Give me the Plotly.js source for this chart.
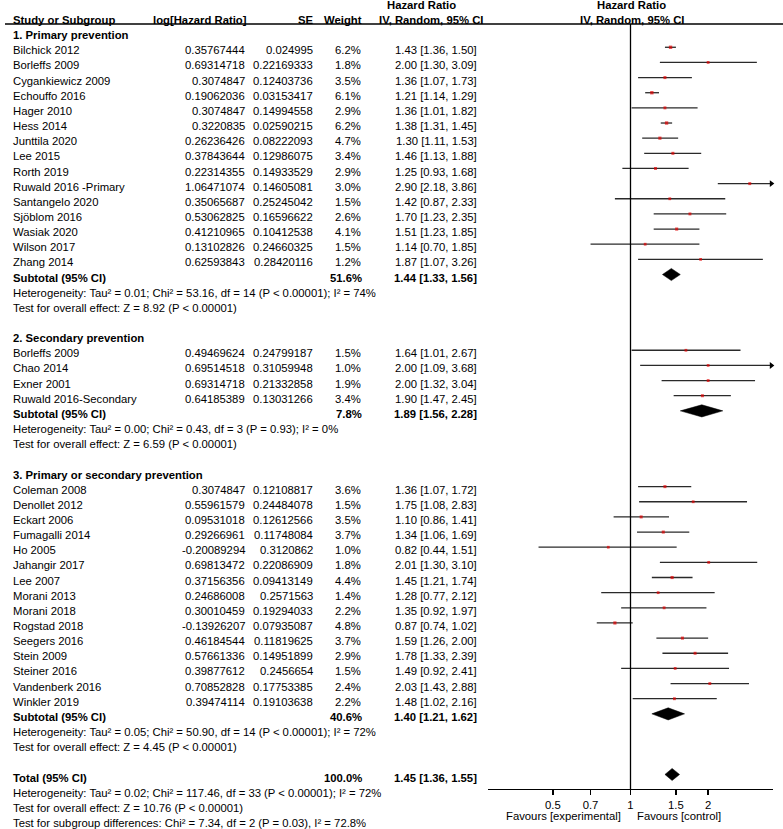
<!DOCTYPE html>
<html><head><meta charset="utf-8">
<script src="https://cdn.plot.ly/plotly-3.0.1.min.js"></script>
<style>html,body{margin:0;padding:0;background:#fff;}</style>
</head><body>
<div id="chart" style="width:783px;height:829px;"></div>
<script>
// ---------- DATA ----------
const groupTitles = ["1. Primary prevention", "2. Secondary prevention", "3. Primary or secondary prevention"];

const g1Names = ["Bilchick 2012","Borleffs 2009","Cygankiewicz 2009","Echouffo 2016","Hager 2010","Hess 2014","Junttila 2020","Lee 2015","Rorth 2019","Ruwald 2016 -Primary","Santangelo 2020","Sjöblom 2016","Wasiak 2020","Wilson 2017","Zhang 2014"];
const g1Log = ["0.35767444","0.69314718","0.3074847","0.19062036","0.3074847","0.3220835","0.26236426","0.37843644","0.22314355","1.06471074","0.35065687","0.53062825","0.41210965","0.13102826","0.62593843"];
const g1SE = ["0.024995","0.22169333","0.12403736","0.03153417","0.14994558","0.02590215","0.08222093","0.12986075","0.14933529","0.14605081","0.25245042","0.16596622","0.10412538","0.24660325","0.28420116"];
const g1W = [6.2,1.8,3.5,6.1,2.9,6.2,4.7,3.4,2.9,3.0,1.5,2.6,4.1,1.5,1.2];
const g1HR = [1.43,2.00,1.36,1.21,1.36,1.38,1.30,1.46,1.25,2.90,1.42,1.70,1.51,1.14,1.87];
const g1Lo = [1.36,1.30,1.07,1.14,1.01,1.31,1.11,1.13,0.93,2.18,0.87,1.23,1.23,0.70,1.07];
const g1Hi = [1.50,3.09,1.73,1.29,1.82,1.45,1.53,1.88,1.68,3.86,2.33,2.35,1.85,1.85,3.26];

const g2Names = ["Borleffs 2009","Chao 2014","Exner 2001","Ruwald 2016-Secondary"];
const g2Log = ["0.49469624","0.69514518","0.69314718","0.64185389"];
const g2SE = ["0.24799187","0.31059948","0.21332858","0.13031266"];
const g2W = [1.5,1.0,1.9,3.4];
const g2HR = [1.64,2.00,2.00,1.90];
const g2Lo = [1.01,1.09,1.32,1.47];
const g2Hi = [2.67,3.68,3.04,2.45];

const g3Names = ["Coleman 2008","Denollet 2012","Eckart 2006","Fumagalli 2014","Ho 2005","Jahangir 2017","Lee 2007","Morani 2013","Morani 2018","Rogstad 2018","Seegers 2016","Stein 2009","Steiner 2016","Vandenberk 2016","Winkler 2019"];
const g3Log = ["0.3074847","0.55961579","0.09531018","0.29266961","-0.20089294","0.69813472","0.37156356","0.24686008","0.30010459","-0.13926207","0.46184544","0.57661336","0.39877612","0.70852828","0.39474114"];
const g3SE = ["0.12108817","0.24484078","0.12612566","0.11748084","0.3120862","0.22086909","0.09413149","0.2571563","0.19294033","0.07935087","0.11819625","0.14951899","0.2456654","0.17753385","0.19103638"];
const g3W = [3.6,1.5,3.5,3.7,1.0,1.8,4.4,1.4,2.2,4.8,3.7,2.9,1.5,2.4,2.2];
const g3HR = [1.36,1.75,1.10,1.34,0.82,2.01,1.45,1.28,1.35,0.87,1.59,1.78,1.49,2.03,1.48];
const g3Lo = [1.07,1.08,0.86,1.06,0.44,1.30,1.21,0.77,0.92,0.74,1.26,1.33,0.92,1.43,1.02];
const g3Hi = [1.72,2.83,1.41,1.69,1.51,3.10,1.74,2.12,1.97,1.02,2.00,2.39,2.41,2.88,2.16];

const subW = [51.6, 7.8, 40.6];
const subHR = [1.44, 1.89, 1.40];
const subLo = [1.33, 1.56, 1.21];
const subHi = [1.56, 2.28, 1.62];
const hetText = [
  "Heterogeneity: Tau² = 0.01; Chi² = 53.16, df = 14 (P < 0.00001); I² = 74%",
  "Heterogeneity: Tau² = 0.00; Chi² = 0.43, df = 3 (P = 0.93); I² = 0%",
  "Heterogeneity: Tau² = 0.05; Chi² = 50.90, df = 14 (P < 0.00001); I² = 72%"];
const effText = [
  "Test for overall effect: Z = 8.92 (P < 0.00001)",
  "Test for overall effect: Z = 6.59 (P < 0.00001)",
  "Test for overall effect: Z = 4.45 (P < 0.00001)"];

const totW = 100.0, totHR = 1.45, totLo = 1.36, totHi = 1.55;
const totFooter = [
  "Heterogeneity: Tau² = 0.02; Chi² = 117.46, df = 33 (P < 0.00001); I² = 72%",
  "Test for overall effect: Z = 10.76 (P < 0.00001)",
  "Test for subgroup differences: Chi² = 7.34, df = 2 (P = 0.03), I² = 72.8%"];

const tickVals = [0.5, 0.7, 1, 1.5, 2];
const tickText = ["0.5", "0.7", "1", "1.5", "2"];
const favLeft = "Favours [experimental]";
const favRight = "Favours [control]";

// ---------- LAYOUT GEOMETRY ----------
const W = 783, H = 829;
const ROW0 = 20, ROWH = 15.15;
const px = v => v / W;
const py = v => 1 - v / H;
const FONT = "Liberation Sans, Arial, sans-serif";
const FS = 11.3;
const LOGMAX = 0.5525;
const axisMax = Math.pow(10, LOGMAX);
const MARK_OFF = -0.2;

const groups = [
  {names:g1Names, log:g1Log, se:g1SE, w:g1W, hr:g1HR, lo:g1Lo, hi:g1Hi},
  {names:g2Names, log:g2Log, se:g2SE, w:g2W, hr:g2HR, lo:g2Lo, hi:g2Hi},
  {names:g3Names, log:g3Log, se:g3SE, w:g3W, hr:g3HR, lo:g3Lo, hi:g3Hi}];

const ann = [];
function txt(x, row, text, anchor, bold) {
  ann.push({xref:'paper', yref:'y', x:px(x), y:row, text: bold ? '<b>'+text+'</b>' : text,
    xanchor:anchor, yanchor:'middle', showarrow:false,
    font:{family:FONT, size:FS, color:'#000'}});
}
const ciStr = (h,l,u) => h.toFixed(2)+' ['+l.toFixed(2)+', '+u.toFixed(2)+']';

// header
txt(11, 0, "Study or Subgroup", 'left', true);
txt(249, 0, "log[Hazard Ratio]", 'right', true);
txt(316, 0, "SE", 'right', true);
txt(364, 0, "Weight", 'right', true);
txt(421.5, -1, "Hazard Ratio", 'center', true);
txt(431, 0, "IV, Random, 95% CI", 'center', true);
txt(631, -1, "Hazard Ratio", 'center', true);
txt(632, 0, "IV, Random, 95% CI", 'center', true);

const ciX = [], ciY = [], ptX = [], ptY = [], ptS = [], arX = [], arY = [];
const diamonds = [];
let r = 1;
groups.forEach((g, gi) => {
  txt(11, r, groupTitles[gi], 'left', true); r++;
  g.names.forEach((n, i) => {
    txt(11, r, n, 'left', false);
    txt(247, r, g.log[i], 'right', false);
    txt(315, r, g.se[i], 'right', false);
    txt(363, r, g.w[i].toFixed(1)+'%', 'right', false);
    txt(479, r, ciStr(g.hr[i], g.lo[i], g.hi[i]), 'right', false);
    ciX.push(g.lo[i], g.hi[i], null); ciY.push(r+MARK_OFF, r+MARK_OFF, null);
    ptX.push(g.hr[i]); ptY.push(r+MARK_OFF); ptS.push(2.6 + 0.12*g.w[i]);
    if (g.hi[i] > axisMax) { arX.push(axisMax * 0.985); arY.push(r+MARK_OFF); }
    r++;
  });
  txt(11, r, "Subtotal (95% CI)", 'left', true);
  txt(364, r, subW[gi].toFixed(1)+'%', 'right', true);
  txt(479, r, ciStr(subHR[gi], subLo[gi], subHi[gi]), 'right', true);
  diamonds.push({hr:subHR[gi], lo:subLo[gi], hi:subHi[gi], row:r+MARK_OFF});
  r++;
  txt(11, r, hetText[gi], 'left', false); r++;
  txt(11, r, effText[gi], 'left', false); r++;
  r++;
});
txt(11, r, "Total (95% CI)", 'left', true);
txt(364, r, totW.toFixed(1)+'%', 'right', true);
txt(479, r, ciStr(totHR, totLo, totHi), 'right', true);
diamonds.push({hr:totHR, lo:totLo, hi:totHi, row:r+MARK_OFF});
r++;
totFooter.forEach(t => { txt(11, r, t, 'left', false); r++; });

// favours labels
ann.push({xref:'paper', yref:'paper', x:px(623), y:py(816), text:favLeft, xanchor:'right', yanchor:'middle', showarrow:false, font:{family:FONT, size:FS, color:'#000'}});
ann.push({xref:'paper', yref:'paper', x:px(635), y:py(816), text:favRight, xanchor:'left', yanchor:'middle', showarrow:false, font:{family:FONT, size:FS, color:'#000'}});

const traces = [];
traces.push({type:'scatter', mode:'lines', x:ciX, y:ciY, line:{color:'#2a2a2a', width:1.3}, hoverinfo:'skip', connectgaps:false});
diamonds.forEach(d => {
  const h = 0.4;
  traces.push({type:'scatter', mode:'lines', x:[d.lo, d.hr, d.hi, d.hr, d.lo], y:[d.row, d.row-h, d.row, d.row+h, d.row],
    fill:'toself', fillcolor:'#000', line:{color:'#000', width:0.5}, hoverinfo:'skip'});
});
traces.push({type:'scatter', mode:'markers', x:ptX, y:ptY, marker:{symbol:'square', size:ptS, color:'#e00000', line:{width:0}}, hoverinfo:'skip'});
traces.push({type:'scatter', mode:'markers', x:arX, y:arY, cliponaxis:false, marker:{symbol:'triangle-right', size:6, color:'#000', line:{width:0}}, hoverinfo:'skip'});

const layout = {
  width:W, height:H, margin:{l:0, r:0, t:0, b:0}, paper_bgcolor:'#fff', plot_bgcolor:'rgba(0,0,0,0)',
  showlegend:false,
  font:{family:FONT, size:FS, color:'#000'},
  xaxis:{type:'log', domain:[px(488), px(773)], range:[-LOGMAX, LOGMAX], anchor:'free', position:py(789),
    showline:true, linecolor:'#000', linewidth:1.3, ticks:'outside', ticklen:5, tickwidth:1.3, tickcolor:'#000',
    tickvals:tickVals, ticktext:tickText, tickfont:{family:FONT, size:FS, color:'#000'},
    showgrid:false, zeroline:false, fixedrange:true},
  yaxis:{domain:[0,1], range:[(H-ROW0)/ROWH, -ROW0/ROWH], visible:false, showgrid:false, zeroline:false, fixedrange:true},
  annotations:ann,
  shapes:[
    {type:'line', xref:'x', yref:'paper', x0:1, x1:1, y0:py(24), y1:py(789), line:{color:'#000', width:1.3}},
    {type:'line', xref:'paper', yref:'paper', x0:px(5), x1:1, y0:py(24), y1:py(24), line:{color:'#000', width:1.3}}
  ]
};
Plotly.newPlot('chart', traces, layout, {displayModeBar:false, staticPlot:true});
</script>
</body></html>
